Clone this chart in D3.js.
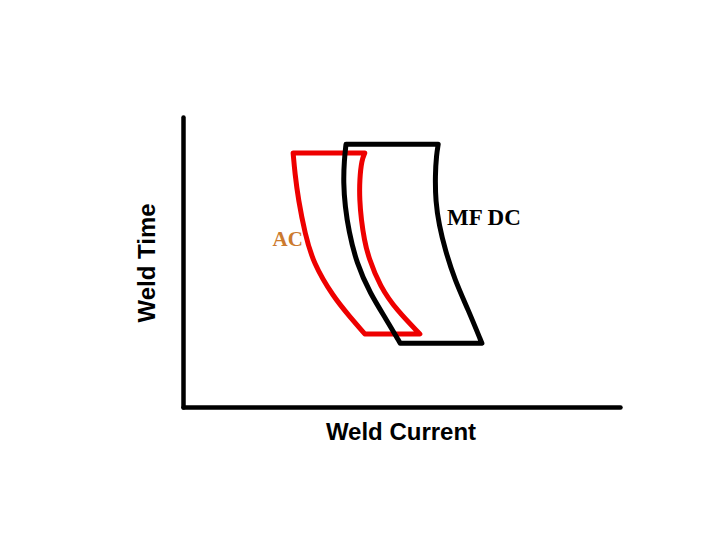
<!DOCTYPE html>
<html>
<head>
<meta charset="utf-8">
<script src="https://cdn.jsdelivr.net/npm/d3@7"></script>
<style>
html,body{margin:0;padding:0;background:#fff;}
svg{display:block;}
</style>
</head>
<body>
<svg id="chart" width="720" height="540"></svg>
<script>
// Axis labels
const xLabel = "Weld Current";
const yLabel = "Weld Time";

// Series names
const seriesNames = ["AC", "MF DC"];

// AC lobe (red): left edge bottom->top, right edge top->bottom  [current, time]
const acLeft = [[41.6,25.2],[38.2,31.1],[34.4,38.0],[29.8,49.6],[27.9,59.9],[26.4,71.4],[25.6,80.7],[25.2,87.6]];
const acRight = [[41.6,87.6],[40.9,85.2],[40.4,78.3],[40.4,71.4],[40.8,64.5],[41.5,57.6],[42.4,51.8],[45.1,41.5],[48.9,33.4],[54.2,25.2]];

// MF DC lobe (black)
const dcLeft = [[49.7,22.0],[46.6,30.0],[42.8,39.2],[39.7,49.6],[37.9,61.0],[37.1,69.1],[36.7,77.2],[36.9,85.2],[37.3,90.6]];
const dcRight = [[58.4,90.6],[58.0,86.9],[57.7,80.0],[57.8,70.8],[58.6,62.8],[60.0,54.1],[62.2,43.8],[65.3,33.4],[68.4,22.0]];

// Label anchor positions (data units)
const acLabelPos = [20.5, 55.5];
const dcLabelPos = [60.4, 62.8];

const svg = d3.select("#chart");
const x = d3.scaleLinear().domain([0,100]).range([183,620]);
const y = d3.scaleLinear().domain([0,100]).range([407,117]);

// Axes as plain lines (no ticks)
const xAxis = d3.axisBottom(x).tickValues([]).tickSizeOuter(0);
const yAxis = d3.axisLeft(y).tickValues([]).tickSizeOuter(0);
const gx = svg.append("g").attr("transform", `translate(0,${y(0)})`).call(xAxis);
const gy = svg.append("g").attr("transform", `translate(${x(0)},0)`).call(yAxis);
[gx, gy].forEach(g => g.select(".domain")
  .attr("stroke", "#000").attr("stroke-width", 4.5).attr("stroke-linecap", "round"));

const line = d3.line().x(d => x(d[0])).y(d => y(d[1])).curve(d3.curveBasis);
function lobe(left, right) {
  return line(left) + line(right).replace(/^M/, "L") + "Z";
}

svg.append("path").attr("d", lobe(acLeft, acRight))
  .attr("fill", "none").attr("stroke", "#EE0000").attr("stroke-width", 5)
  .attr("stroke-linejoin", "round");
svg.append("path").attr("d", lobe(dcLeft, dcRight))
  .attr("fill", "none").attr("stroke", "#000").attr("stroke-width", 5)
  .attr("stroke-linejoin", "round");

// Series labels
svg.append("text").attr("x", x(acLabelPos[0])).attr("y", y(acLabelPos[1]))
  .attr("font-family", "'Liberation Serif', 'Times New Roman', serif").attr("font-weight", "bold")
  .attr("font-size", 21).attr("fill", "#CC7A2E").text(seriesNames[0]);
svg.append("text").attr("x", x(dcLabelPos[0])).attr("y", y(dcLabelPos[1]))
  .attr("font-family", "'Liberation Serif', 'Times New Roman', serif").attr("font-weight", "bold")
  .attr("font-size", 23).attr("fill", "#000").text(seriesNames[1]);

// Axis titles
svg.append("text").attr("x", 401).attr("y", 440).attr("text-anchor", "middle")
  .attr("font-family", "'Liberation Sans', Arial, sans-serif").attr("font-weight", "bold")
  .attr("font-size", 24).attr("fill", "#000").text(xLabel);
svg.append("text").attr("transform", "translate(155,263) rotate(-90)").attr("text-anchor", "middle")
  .attr("font-family", "'Liberation Sans', Arial, sans-serif").attr("font-weight", "bold")
  .attr("font-size", 24).attr("fill", "#000").text(yLabel);
</script>
</body>
</html>
